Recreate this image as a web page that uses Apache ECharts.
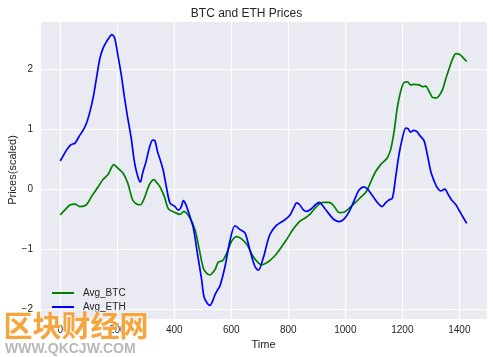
<!DOCTYPE html>
<html>
<head>
<meta charset="utf-8">
<script src="https://cdn.jsdelivr.net/npm/echarts@6/dist/echarts.min.js"></script>
<style>
html,body{margin:0;padding:0;background:#fff;}
#chart{width:493px;height:357px;}
</style>
</head>
<body>
<div id="chart"></div>
<script>
// ---- data ----
var titleText = 'BTC and ETH Prices';
var xName = 'Time';
var yName = 'Prices(scaled)';
var seriesNames = ['Avg_BTC', 'Avg_ETH'];

var btcT = [0,20,35,52,69,92,110,133,150,168,188,202,220,237,254,269,281,295,312,329,340,350,365,380,403,420,434,455,473,488,502,513,525,543,554,570,584,601,619,636,656,675,695,706,730,753,771,794,815,839,852,874,897,921,944,961,979,997,1020,1038,1055,1074,1090,1106,1124,1135,1147,1159,1171,1182,1194,1206,1218,1229,1241,1259,1271,1282,1294,1306,1318,1329,1341,1353,1365,1376,1388,1400,1412,1426];
var btcV = [-0.43,-0.33,-0.26,-0.25,-0.29,-0.26,-0.12,0.04,0.16,0.25,0.41,0.35,0.27,0.10,-0.18,-0.25,-0.26,-0.15,0.07,0.16,0.10,0.04,-0.12,-0.33,-0.39,-0.42,-0.37,-0.48,-0.68,-1.01,-1.32,-1.40,-1.43,-1.34,-1.22,-1.19,-1.07,-0.87,-0.79,-0.83,-0.93,-1.11,-1.23,-1.26,-1.21,-1.11,-1.00,-0.84,-0.68,-0.54,-0.50,-0.43,-0.30,-0.22,-0.22,-0.29,-0.39,-0.38,-0.29,-0.21,-0.13,-0.04,0.13,0.29,0.41,0.46,0.52,0.66,0.96,1.35,1.63,1.78,1.79,1.74,1.75,1.74,1.71,1.72,1.63,1.53,1.52,1.56,1.66,1.85,2.02,2.17,2.26,2.25,2.20,2.13];

var ethT = [0,12,23,37,52,66,81,92,104,116,127,139,150,162,173,181,191,202,214,225,237,249,260,272,281,289,301,312,324,332,341,350,361,373,385,400,414,424,432,440,449,467,481,496,504,515,525,535,543,552,560,578,595,613,630,648,665,683,695,712,735,759,788,806,820,829,840,852,864,880,895,908,926,944,961,979,997,1014,1032,1049,1066,1078,1094,1114,1129,1141,1153,1165,1176,1188,1200,1212,1220,1229,1239,1251,1262,1276,1288,1300,1312,1323,1335,1349,1361,1373,1388,1400,1412,1426];
var ethV = [0.47,0.57,0.66,0.74,0.77,0.88,0.99,1.10,1.29,1.54,1.85,2.18,2.35,2.46,2.54,2.58,2.52,2.24,1.91,1.54,1.18,0.85,0.46,0.21,0.12,0.27,0.46,0.68,0.82,0.81,0.63,0.50,0.32,0.02,-0.23,-0.28,-0.35,-0.30,-0.19,-0.25,-0.37,-0.65,-1.07,-1.51,-1.79,-1.90,-1.94,-1.86,-1.76,-1.68,-1.62,-1.29,-0.87,-0.61,-0.67,-0.73,-1.01,-1.29,-1.35,-1.15,-0.76,-0.60,-0.51,-0.43,-0.30,-0.23,-0.26,-0.34,-0.37,-0.33,-0.26,-0.22,-0.31,-0.42,-0.51,-0.54,-0.49,-0.37,-0.18,-0.01,0.04,0.00,-0.10,-0.23,-0.29,-0.23,-0.18,-0.15,0.18,0.57,0.85,1.02,1.01,0.95,0.98,0.96,0.89,0.81,0.57,0.29,0.13,0.02,-0.03,0.00,-0.09,-0.18,-0.26,-0.36,-0.46,-0.57];

var watermarkCN = '区块财经网';
var watermarkEN = 'WWW.QKCJW.COM';

function zip(t, v) { return t.map(function (x, i) { return [x, v[i]]; }); }

var txt = '#262626';
var ff = 'Liberation Sans, Arial, sans-serif';
var chart = echarts.init(document.getElementById('chart'), null, {renderer: 'canvas'});
chart.setOption({
  backgroundColor: '#ffffff',
  animation: false,
  title: {
    text: titleText, left: 'center', top: 3,
    textStyle: {fontFamily: ff, fontSize: 12, fontWeight: 'normal', color: txt}
  },
  grid: {left: 40, top: 21, width: 447, height: 298, show: true, backgroundColor: '#EAEAF2', borderWidth: 0,
    containLabel: false, outerBoundsMode: 'none'},
  legend: {
    data: seriesNames, orient: 'vertical', left: 47, top: 282,
    icon: 'rect', itemWidth: 22, itemHeight: 2, itemGap: 2,
    textStyle: {fontFamily: ff, fontSize: 10, color: txt, padding: [0, 0, 0, 4], lineHeight: 12}
  },
  xAxis: {
    type: 'value', min: -71, max: 1497, minInterval: 200, maxInterval: 200,
    name: xName, nameLocation: 'middle', nameGap: 20, nameMoveOverlap: false,
    nameTextStyle: {fontFamily: ff, fontSize: 11, color: txt},
    axisLine: {show: false}, axisTick: {show: false},
    axisLabel: {color: txt, fontSize: 10, margin: 6, fontFamily: ff, showMinLabel: false, showMaxLabel: false,
      formatter: function (v) { return String(v); }},
    splitLine: {show: true, lineStyle: {color: '#ffffff', width: 1.2}}
  },
  yAxis: {
    type: 'value', min: -2.166, max: 2.806, minInterval: 1, maxInterval: 1,
    name: yName, nameLocation: 'middle', nameGap: 22, nameRotate: 90, nameMoveOverlap: false,
    nameTextStyle: {fontFamily: ff, fontSize: 11, color: txt},
    axisLine: {show: false}, axisTick: {show: false},
    axisLabel: {color: txt, fontSize: 10, margin: 7, fontFamily: ff, showMinLabel: false, showMaxLabel: false,
      formatter: function (v) { return v < 0 ? '\u2212' + Math.abs(v) : String(v); }},
    splitLine: {show: true, lineStyle: {color: '#ffffff', width: 1.2}}
  },
  series: [
    {name: seriesNames[0], type: 'line', data: zip(btcT, btcV), showSymbol: false, smooth: 0.3, color: '#008000', lineStyle: {width: 1.7, color: '#008000'}},
    {name: seriesNames[1], type: 'line', data: zip(ethT, ethV), showSymbol: false, smooth: 0.3, color: '#0000FF', lineStyle: {width: 1.7, color: '#0000FF'}}
  ],
  graphic: [
    {type: 'text', left: 3, top: 311, z: 100, style: {
      text: watermarkCN, font: 'bold 29px "Noto Sans CJK SC"',
      fill: '#F6A43C', stroke: 'rgba(255,255,255,0.7)', lineWidth: 1
    }},
    {type: 'text', left: 5, top: 342, z: 100, style: {
      text: watermarkEN, font: 'bold 14px "Liberation Sans", Arial, sans-serif', fill: '#B8B8B8'
    }}
  ]
});
</script>
</body>
</html>
